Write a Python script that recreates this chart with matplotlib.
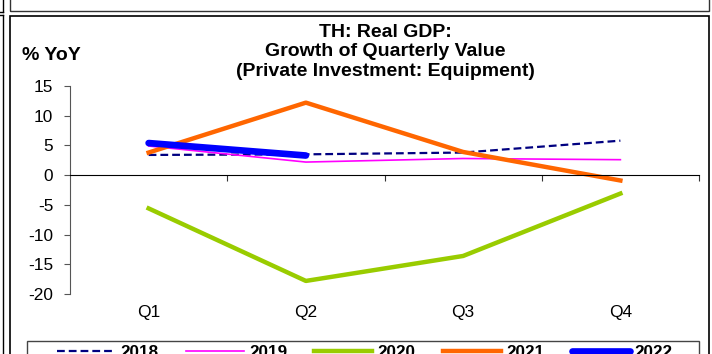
import matplotlib
matplotlib.use("Agg")
import matplotlib.pyplot as plt
from matplotlib.lines import Line2D
from matplotlib.patches import Rectangle

plt.rcParams["font.family"] = ["Liberation Sans", "DejaVu Sans"]
plt.rcParams["axes.unicode_minus"] = False

quarters = ["Q1", "Q2", "Q3", "Q4"]
years = ["2018", "2019", "2020", "2021", "2022"]
growth_2018 = [3.4, 3.5, 3.8, 5.8]
growth_2019 = [4.9, 2.2, 2.8, 2.6]
growth_2020 = [-5.6, -17.8, -13.6, -3.1]
growth_2021 = [3.8, 12.2, 3.9, -0.9]
growth_2022 = [5.4, 3.3]

W, H = 712, 354
fig = plt.figure(figsize=(W / 100, H / 100), dpi=100)


def fx(px):
    return px / W


def fy(py):
    return 1 - py / H


# panel frames
fig.add_artist(Rectangle((fx(10), fy(360)), fx(709) - fx(10), fy(16) - fy(360),
                         fill=False, ec="black", lw=1.2, transform=fig.transFigure))
fig.add_artist(Rectangle((fx(10), fy(11)), fx(709) - fx(10), fy(-10) - fy(11),
                         fill=False, ec="#333333", lw=1.0, transform=fig.transFigure))
fig.add_artist(Line2D([fx(3), fx(3)], [fy(-5), fy(12)], color="black", lw=1.0))
fig.add_artist(Line2D([fx(3), fx(3)], [fy(15), fy(360)], color="black", lw=1.0))
fig.add_artist(Line2D([fx(-5), fx(3)], [fy(12), fy(12)], color="black", lw=1.0))
fig.add_artist(Line2D([fx(-5), fx(3)], [fy(15), fy(15)], color="black", lw=1.0))

ax = fig.add_axes([fx(70), fy(294), fx(699) - fx(70), fy(86) - fy(294)])

x = [i + 0.5 for i in range(len(quarters))]
ax.plot(x, growth_2018, color="#000080", lw=1.6, ls=(0, (3.5, 1.8)), label=years[0])
ax.plot(x, growth_2019, color="#FF00FF", lw=1.2, label=years[1])
ax.plot(x, growth_2020, color="#99CC00", lw=3.2, label=years[2])
ax.plot(x, growth_2021, color="#FF6600", lw=3.2, label=years[3])
ax.plot(x[:len(growth_2022)], growth_2022, color="#0000FF", lw=4.8,
        solid_capstyle="round", label=years[4])

ax.set_xlim(0, 4)
ax.set_ylim(-20, 15)
ax.set_yticks(range(-20, 16, 5))
ax.tick_params(axis="y", direction="out", length=4, color="#555555",
               labelsize=12.4, pad=8)
ax.spines["top"].set_visible(False)
ax.spines["right"].set_visible(False)
ax.spines["left"].set_color("#555555")
ax.spines["bottom"].set_position(("data", 0))
ax.spines["bottom"].set_color("black")
ax.set_xticks([1, 2, 3, 4])
ax.set_xticklabels([])
ax.tick_params(axis="x", direction="out", length=4, color="#333333")

for xi, q in zip(x, quarters):
    ax.text(xi, -0.09, q, transform=ax.get_xaxis_transform(), ha="center",
            va="center", fontsize=12.5)

fig.text(fx(385), fy(52), "TH: Real GDP:\nGrowth of Quarterly Value\n(Private Investment: Equipment)",
         ha="center", va="center", fontsize=14, fontweight="bold", linespacing=1.22)
fig.text(fx(22), fy(56), "% YoY", ha="left", va="center", fontsize=14, fontweight="bold")

# legend box
fig.add_artist(Rectangle((fx(27), fy(370)), fx(699) - fx(27), fy(341) - fy(370),
                         fill=False, ec="#444444", lw=1.0, transform=fig.transFigure))
fig.legend(loc="upper left", bbox_to_anchor=(fx(57), fy(345)), ncol=5, frameon=False,
           prop={"weight": "bold", "size": 12.3}, handlelength=3.4, handletextpad=0.3,
           columnspacing=1.6, borderpad=0, borderaxespad=0)

fig.savefig("out.png", dpi=100)
